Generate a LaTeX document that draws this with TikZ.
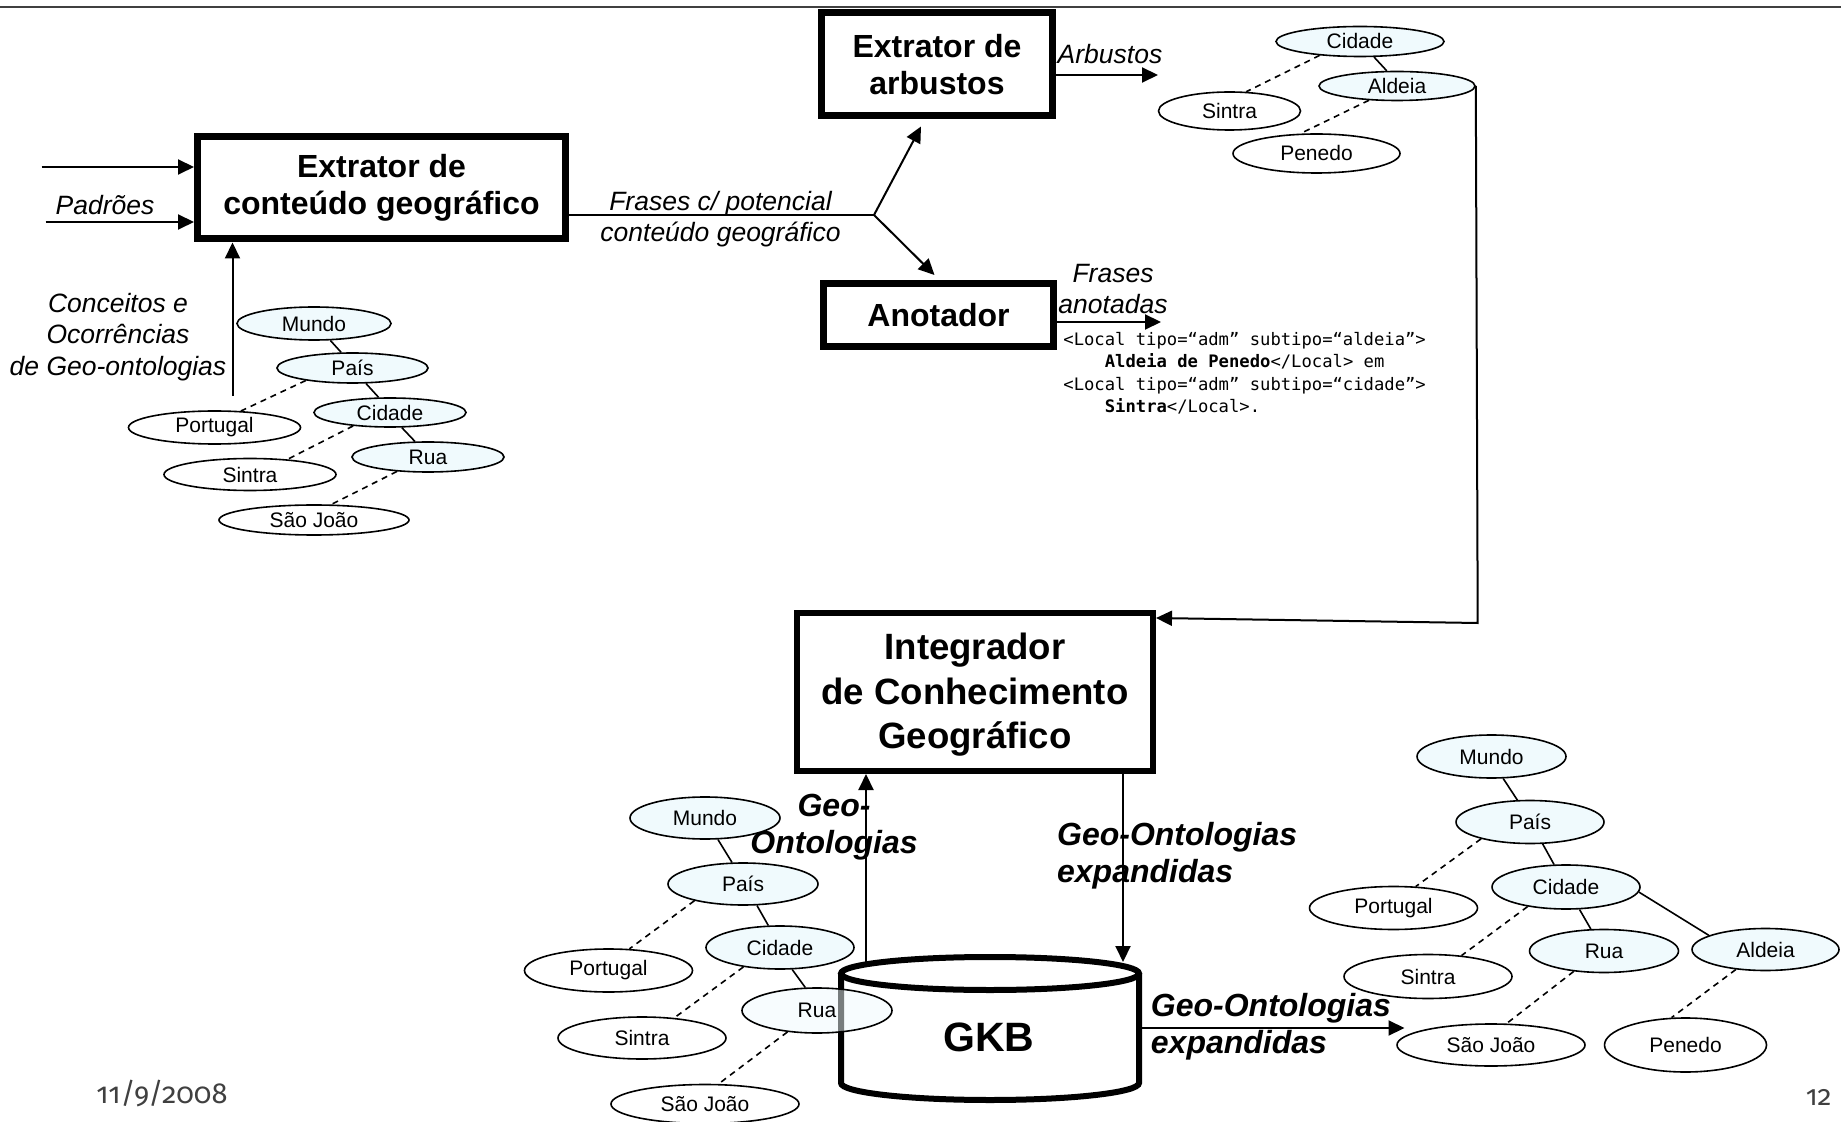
\documentclass[tikz,border=0pt]{standalone}
\usepackage{fontspec}
\setmainfont{Liberation Sans}
\newfontfamily\codefont{DejaVu Sans Mono}
\newfontfamily\footfont[Numbers=OldStyle]{Fira Sans}
\usetikzlibrary{arrows.meta,shapes.geometric,calc}
\definecolor{nodeblue}{RGB}{240,250,253}
\definecolor{slidegray}{RGB}{64,64,64}
\begin{document}
\begin{tikzpicture}[x=0.5pt,y=-0.5pt,
  box/.style={draw, line width=3.5pt, inner sep=0pt, align=center, font=\bfseries\fontsize{16}{18.5}\selectfont},
  conn/.style={line width=1pt, -{Triangle[length=8pt,width=7.5pt]}},
  treeedge/.style={line width=0.8pt},
  dashedge/.style={line width=0.8pt, dash pattern=on 3pt off 2.5pt},
  cls/.style={ellipse, draw, line width=0.8pt, fill=nodeblue, inner sep=0pt, font=\fontsize{10.5}{12}\selectfont},
  inst/.style={ellipse, draw, line width=0.8pt, fill=white, inner sep=0pt, font=\fontsize{10.5}{12}\selectfont},
  lbl/.style={inner sep=0pt, align=center, font=\itshape\fontsize{13.25}{15.75}\selectfont},
  blbl/.style={inner sep=0pt, font=\bfseries\itshape\fontsize{16}{18.5}\selectfont},
  cyl/.style={line width=3pt},
]
\useasboundingbox (0,0) rectangle (1841,1122);
% slide rule
\coordinate (ruleL) at (0,7);
\coordinate (ruleR) at (1841,7);
\draw[slidegray, line width=1.1pt] (ruleL) -- (ruleR);

% boxes
\node[box, minimum width=184pt, minimum height=51pt] (ex1) at (381.5,188) {Extrator de\\conteúdo geográfico};
\node[box, minimum width=115.5pt, minimum height=51.5pt] (ex2) at (937,64.5) {Extrator de\\arbustos};
\node[box, minimum width=115pt, minimum height=31.5pt] (anot) at (938.5,315) {Anotador};
\node[box, line width=3pt, minimum width=178pt, minimum height=79pt, font=\bfseries\fontsize{18.3}{22.4}\selectfont] (int) at (975,692) {\rule{0pt}{16pt}Integrador\\de Conhecimento\\Geográfico};

% inputs of first extractor
\coordinate (in1) at (41.5,167);
\coordinate (in2) at (45.5,222);
\draw[conn] (in1) -- (in1 -| ex1.west);
\draw[conn] (in2) -- (in2 -| ex1.west);
\node[lbl] (padroes) at (105,205) {Padrões};
\coordinate (cin) at (232.5,396);
\draw[conn] (cin) -- (cin |- ex1.south);
\node[lbl] (conc) at (118,337) {Conceitos e\\Ocorrências\\de Geo-ontologias};

% branch
\coordinate (br) at (874,215);
\draw[line width=1pt] (ex1.east |- br) -- (br);
\draw[conn] (br) -- ($(ex2.south)+(-16,7)$);
\draw[conn] (br) -- ($(anot.north)+(-4,-5)$);
\node[lbl] (frases) at (720.5,219) {Frases c/ potencial\\conteúdo geográfico};

\coordinate (arbtip) at (1158,75);
\draw[conn] (ex2.east |- arbtip) -- (arbtip);
\node[lbl] (arb) at (1110,54) {Arbustos};
\coordinate (fatip) at (1161,322);
\draw[conn] (anot.east |- fatip) -- (fatip);
\node[lbl] (fa) at (1113,289) {Frases\\anotadas};

\node[anchor=north west, inner sep=0pt, align=left, font=\codefont\fontsize{8.6}{11.15}\selectfont] (code) at (1063,332)
 {<Local tipo=“adm” subtipo=“aldeia”>\\\phantom{xxxx}\textbf{Aldeia de Penedo}</Local> em\\<Local tipo=“adm” subtipo=“cidade”>\\\phantom{xxxx}\textbf{Sintra}</Local>.};

% left tree
\node[cls, minimum width=77pt, minimum height=16.5pt] (lm) at (314,323.5) {Mundo};
\node[cls, minimum width=75.5pt, minimum height=15pt] (lp) at (352.5,368) {País};
\node[cls, minimum width=76pt, minimum height=14.5pt] (lc) at (390,412.5) {Cidade};
\node[cls, minimum width=76pt, minimum height=15pt] (lr) at (428,457) {Rua};
\node[inst, minimum width=86pt, minimum height=16.5pt] (lpt) at (214.5,427.5) {Portugal};
\node[inst, minimum width=86pt, minimum height=16pt] (ls) at (250,474.5) {Sintra};
\node[inst, minimum width=95pt, minimum height=15pt] (lsj) at (314,520) {São João};
\draw[treeedge] (lm.314) -- (lp.126);
\draw[treeedge] (lp.311) -- (lc.127);
\draw[treeedge] (lc.308) -- (lr.130);
\draw[dashedge] (lp.195) -- (lpt.32);
\draw[dashedge] (lc.200) -- (ls.22);
\draw[dashedge] (lr.205) -- (lsj.42);

% top right tree
\node[cls, minimum width=84pt, minimum height=15pt] (tc) at (1360,41.5) {Cidade};
\node[cls, minimum width=78pt, minimum height=14.5pt] (ta) at (1397,86) {Aldeia};
\node[inst, minimum width=71pt, minimum height=19pt] (ts) at (1229.5,111) {Sintra};
\node[inst, minimum width=83.5pt, minimum height=19.5pt] (tpe) at (1316.5,153.5) {Penedo};
\draw[treeedge] (tc.312) -- (ta.124);
\draw[dashedge] (tc.199) -- (ts.49);
\draw[dashedge] (ta.207) -- (tpe.129);

% feedback connector
\coordinate (corner) at (1477.7,623);
\draw[conn] (ta.east) -- (corner) -- ($(int.north east)+(0,8)$);

% GKB cylinder
\draw[cyl] (841,973.5) -- (841,1083) arc[start angle=180, end angle=0, x radius=149, y radius=17] -- (1139,973.5);
\draw[cyl] (990,973.5) ellipse[x radius=149, y radius=16.5];
\node[inner sep=0pt, font=\bfseries\fontsize{20.5}{24}\selectfont] (gkb) at (989,1037) {GKB};

\coordinate (gkbupl) at (866,964);
\coordinate (gkbdown) at (1123,962);
\coordinate (gkbright) at (1139,1028);
\coordinate (outtip) at (1404.5,1028);
\draw[conn] (gkbupl) -- (gkbupl |- int.south);
\draw[conn] (int.south -| gkbdown) -- (gkbdown);
\draw[conn] (gkbright) -- (outtip);
\node[blbl, align=center] (geo1) at (834,827) {Geo-\\Ontologias};
\node[blbl, align=left, anchor=west] (geo2) at (1056.7,856) {Geo-Ontologias\\expandidas};
\node[blbl, align=left, anchor=west] (geo3) at (1150.5,1027) {Geo-Ontologias\\expandidas};

% lower middle tree
\node[cls, minimum width=75pt, minimum height=21pt] (mm) at (705,818) {Mundo};
\node[cls, minimum width=75pt, minimum height=21pt] (mp) at (743,884) {País};
\node[cls, minimum width=74pt, minimum height=21.5pt] (mc) at (780,947.5) {Cidade};
\node[cls, minimum width=75pt, minimum height=22.5pt, fill opacity=0.5, text opacity=1] (mr) at (817,1010.5) {Rua};
\node[inst, minimum width=84pt, minimum height=21.5pt] (mpt) at (608.5,970.5) {Portugal};
\node[inst, minimum width=84pt, minimum height=21pt] (ms) at (642,1038) {Sintra};
\node[inst, minimum width=94pt, minimum height=19.5pt] (msj) at (705,1104) {São João};
\draw[treeedge] (mm.301) -- (mp.117);
\draw[treeedge] (mp.303) -- (mc.118);
\draw[treeedge] (mc.299) -- (mr.117);
\draw[dashedge] (mp.199) -- (mpt.46);
\draw[dashedge] (mc.208) -- (ms.32);
\draw[dashedge] (mr.216) -- (msj.56);

% right tree
\node[cls, minimum width=74.5pt, minimum height=21.5pt] (rm) at (1491.5,756.5) {Mundo};
\node[cls, minimum width=74pt, minimum height=21.5pt] (rp) at (1530,822) {País};
\node[cls, minimum width=74pt, minimum height=22pt] (rc) at (1566,887) {Cidade};
\node[cls, minimum width=74.5pt, minimum height=21.5pt] (rr) at (1604,951) {Rua};
\node[cls, minimum width=73.5pt, minimum height=21pt] (ra) at (1765.5,949.5) {Aldeia};
\node[inst, minimum width=84pt, minimum height=21.5pt] (rpt) at (1393.5,908) {Portugal};
\node[inst, minimum width=84pt, minimum height=22pt] (rs) at (1428,976.5) {Sintra};
\node[inst, minimum width=94pt, minimum height=21pt] (rsj) at (1491,1045) {São João};
\node[inst, minimum width=81pt, minimum height=27pt] (rpe) at (1685.5,1045) {Penedo};
\draw[treeedge] (rm.298) -- (rp.120);
\draw[treeedge] (rp.300) -- (rc.118);
\draw[treeedge] (rc.301) -- (rr.121);
\draw[treeedge] (rc.356) -- (ra.166);
\draw[dashedge] (rp.199) -- (rpt.44);
\draw[dashedge] (rc.207) -- (rs.32);
\draw[dashedge] (rr.214) -- (rsj.54);
\draw[dashedge] (ra.214) -- (rpe.117);

% footer
\node[anchor=base west, inner sep=0pt, text=slidegray, font=\footfont\fontsize{14.5}{16}\selectfont] (date) at (96,1103) {11/9/2008};
\node[anchor=base east, inner sep=0pt, text=slidegray, font=\footfont\fontsize{14}{16}\selectfont] (page) at (1832,1105) {12};
\end{tikzpicture}
\end{document}
